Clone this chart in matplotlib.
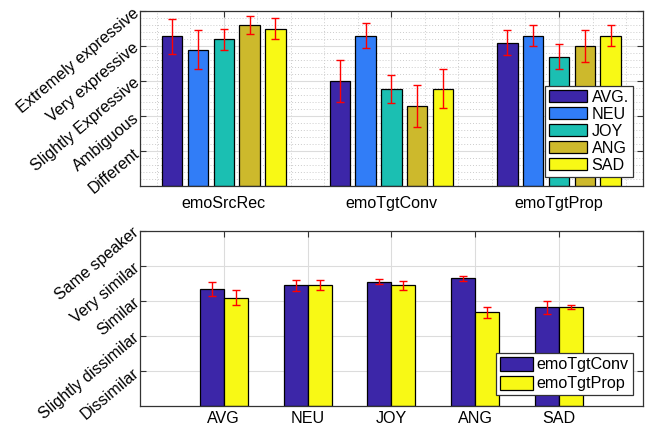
import numpy as np
import matplotlib
matplotlib.use('Agg')
import matplotlib.pyplot as plt
from matplotlib.ticker import MultipleLocator

plt.rcParams['font.family'] = ['Liberation Sans', 'DejaVu Sans']

# top panel: emotion expressiveness MOS
groups = ['emoSrcRec', 'emoTgtConv', 'emoTgtProp']
emotions = ['AVG.', 'NEU', 'JOY', 'ANG', 'SAD']
expr_mean = np.array([
    [4.29, 3.90, 4.20, 4.60, 4.50],
    [3.00, 4.30, 2.79, 2.30, 2.79],
    [4.10, 4.30, 3.70, 4.00, 4.30],
])
expr_err = np.array([
    [0.50, 0.55, 0.30, 0.25, 0.30],
    [0.60, 0.35, 0.40, 0.60, 0.55],
    [0.35, 0.30, 0.35, 0.45, 0.30],
])
expr_labels = ['Different', 'Ambiguous', 'Slightly Expressive',
               'Very expressive', 'Extremely expressive']

# bottom panel: speaker similarity MOS
sim_cats = ['AVG', 'NEU', 'JOY', 'ANG', 'SAD']
sim_series = ['emoTgtConv', 'emoTgtProp']
sim_conv = [3.35, 3.44, 3.54, 3.64, 2.81]
sim_conv_err = [0.20, 0.16, 0.07, 0.08, 0.19]
sim_prop = [3.09, 3.46, 3.45, 2.67, 2.82]
sim_prop_err = [0.22, 0.14, 0.13, 0.15, 0.05]
sim_labels = ['Dissimilar', 'Slightly dissimilar', 'Similar',
              'Very similar', 'Same speaker']

colors = ['#3c26a8', '#317df7', '#1bbfb2', '#cdb92c', '#f8f915']
FS = 11.6

fig = plt.figure(figsize=(6.48, 4.29), dpi=100)
ax1 = fig.add_axes([0.216, 0.566, 0.776, 0.408])
ax2 = fig.add_axes([0.216, 0.054, 0.776, 0.408])


def style_axes(ax, minor, xpad):
    ax.set_axisbelow(True)
    ax.grid(True, which='major', color='#dcdcdc', linewidth=0.8)
    if minor:
        ax.grid(True, which='minor', color='#cccccc', linestyle=(0, (1, 2)),
                linewidth=0.7)
    ax.tick_params(which='both', direction='in', top=True, right=True,
                   length=4, width=0.8, color='#333333')
    ax.tick_params(axis='x', pad=xpad)
    ax.tick_params(axis='y', pad=2)
    ax.tick_params(which='minor', length=0)
    for s in ax.spines.values():
        s.set_color('#333333')
        s.set_linewidth(0.9)


x = np.arange(1, len(groups) + 1)
step = 0.154
for i, emo in enumerate(emotions):
    xi = x + (i - 2) * step
    ax1.bar(xi, expr_mean[:, i], width=0.122, color=colors[i],
            edgecolor='black', linewidth=0.9, label=emo, zorder=2)
    ax1.errorbar(xi, expr_mean[:, i], yerr=expr_err[:, i], fmt='none',
                 ecolor='red', elinewidth=1, capsize=3, capthick=1, zorder=3)
ax1.set_xlim(0.5, 3.5)
ax1.set_ylim(0, 5)
ax1.set_xticks(x)
ax1.set_xticklabels(groups, fontsize=FS)
ax1.set_yticks([1, 2, 3, 4, 5])
ax1.set_yticklabels(expr_labels, fontsize=FS, rotation=40, ha='right',
                    va='center', rotation_mode='anchor')
ax1.xaxis.set_minor_locator(MultipleLocator(0.2))
ax1.yaxis.set_minor_locator(MultipleLocator(0.2))
style_axes(ax1, True, 7)
leg = ax1.legend(loc='lower right', bbox_to_anchor=(0.98, 0.055), fontsize=FS,
                 fancybox=False, framealpha=1, edgecolor='#333333',
                 handlelength=2.4, handleheight=0.75, labelspacing=0.12,
                 borderpad=0.25, handletextpad=0.25, borderaxespad=0)
leg.get_frame().set_linewidth(0.9)

xs = np.arange(1, len(sim_cats) + 1)
w = 0.286
ax2.bar(xs - w / 2, sim_conv, width=w, color=colors[0], edgecolor='black',
        linewidth=0.9, label=sim_series[0], zorder=2)
ax2.bar(xs + w / 2, sim_prop, width=w, color=colors[4], edgecolor='black',
        linewidth=0.9, label=sim_series[1], zorder=2)
ax2.errorbar(xs - w / 2, sim_conv, yerr=sim_conv_err, fmt='none', ecolor='red',
             elinewidth=1, capsize=3, capthick=1, zorder=3)
ax2.errorbar(xs + w / 2, sim_prop, yerr=sim_prop_err, fmt='none', ecolor='red',
             elinewidth=1, capsize=3, capthick=1, zorder=3)
ax2.set_xlim(0, 6)
ax2.set_ylim(0, 5)
ax2.set_xticks(xs)
ax2.set_xticklabels(sim_cats, fontsize=FS)
ax2.set_yticks([1, 2, 3, 4, 5])
ax2.set_yticklabels(sim_labels, fontsize=FS, rotation=40, ha='right',
                    va='center', rotation_mode='anchor')
style_axes(ax2, False, 4)
leg2 = ax2.legend(loc='lower right', bbox_to_anchor=(0.98, 0.06), fontsize=FS,
                  fancybox=False, framealpha=1, edgecolor='#333333',
                  handlelength=2.0, handleheight=1.0, labelspacing=0.2,
                  borderpad=0.25, handletextpad=0.25, borderaxespad=0)
leg2.get_frame().set_linewidth(0.9)

fig.savefig('out.png', dpi=100)
